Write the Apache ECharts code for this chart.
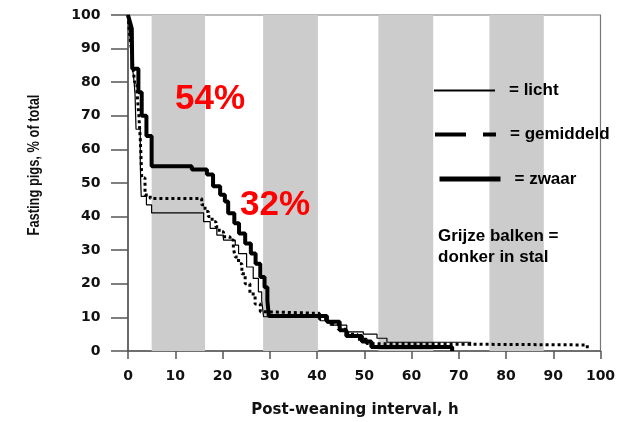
<!DOCTYPE html>
<html>
<head>
<meta charset="utf-8">
<script src="https://cdn.jsdelivr.net/npm/echarts@6/dist/echarts.min.js"></script>
<style>
html,body{margin:0;padding:0;background:#fff;}
#c{width:627px;height:422px;}
</style>
</head>
<body>
<div id="c"></div>
<script>
// ---- data (hours after weaning, % of pigs still fasting) ----
const xTicks = [0,10,20,30,40,50,60,70,80,90,100];
const yTicks = [0,10,20,30,40,50,60,70,80,90,100];
// dark periods in the barn (grey bars), hours
const darkStart = [5, 28.6, 53, 76.5];
const darkEnd   = [16.3, 40.2, 64.6, 88];

const lichtHours = [0,0.3,0.6,0.9,1.3,1.5,1.7,2.6,2.7,2.8,3.9,5.0,16.0,17.4,18.8,20.2,22.7,23.4,25.1,26.5,27.6,28.3,28.7,40.7,42.8,46.3,49.8,52.7,54.8,72.5];
const lichtPct   = [100,96,90,85,80,76,66,56,50,46,43.5,41.1,38.5,36.5,34.5,33,31.5,29,25,21.6,17.6,15,10.2,9,7.7,5.7,5,3.8,2.6,1.5];

const gemHours = [0,0.3,0.7,1.0,1.4,1.9,2.3,2.6,2.8,2.9,3.6,4.7,15.6,16.3,17.0,17.8,18.6,19.3,20.2,21.6,22.3,22.7,23.4,24.1,24.8,25.8,26.9,28.0,28.7,40.5,42.5,44.5,46.5,48.5,50.5,51.5,97.2];
const gemPct   = [100,95,90,85,80,77,70,63,56,51.5,46.4,45.4,43.5,41.5,40,38.5,37,35.5,34,33,30.5,28,26,23,20,17,14,11.7,11.2,9.5,8,6.5,5,3.5,2.2,1.8,0];

const zwaarHours = [0,0.4,0.8,0.9,2.2,2.9,3.9,5.0,13.5,16.7,18.0,19.5,20.5,21.2,22.5,23.5,24.8,26.0,27.0,28.0,28.9,29.5,29.8,42.1,44.8,46.2,49.5,51.5,68.6];
const zwaarPct   = [100,98,96,84,77,70,64,55,54,52.5,49,46.5,44.5,41,38,35,32,29,26,22,19,15,10.4,8.7,6.2,4.5,2.8,1.2,0];

const seriesNames = ['licht','gemiddeld','zwaar'];

function pairs(xs, ys){ return xs.map((x,i)=>[x, ys[i]]); }

const chart = echarts.init(document.getElementById('c'), null, {renderer:'canvas'});

const tickFont = {fontFamily:'DejaVu Sans', fontWeight:'bold', fontSize:14, color:'#111'};
const legFont = {fontFamily:'Liberation Sans', fontWeight:'bold', fontSize:17, color:'#000', padding:[0,0,0,9]};
const hidden = {color:'rgba(0,0,0,0)', borderColor:'rgba(0,0,0,0)', borderWidth:0, opacity:0};

function legendFor(name, left, centerY, ls, itemW){
  return {
    data:[{name:name, lineStyle:ls, itemStyle:hidden}],
    left:left, top:centerY-5, padding:0,
    itemWidth:itemW, itemHeight:10,
    selectedMode:false,
    formatter:'= {name}',
    textStyle:legFont, z:20
  };
}

chart.setOption({
  animation:false,
  backgroundColor:'#fff',
  grid:{left:128, right:26.5, top:15, bottom:71, show:true, borderColor:'#777', borderWidth:1.2, backgroundColor:'transparent'},
  xAxis:{
    type:'value', min:xTicks[0], max:xTicks[xTicks.length-1], interval:10,
    axisLine:{show:true, lineStyle:{color:'#555', width:1.5}},
    axisTick:{show:true, length:8, lineStyle:{color:'#555', width:1.5}},
    axisLabel:Object.assign({margin:18}, tickFont),
    splitLine:{show:false}
  },
  yAxis:{
    type:'value', min:yTicks[0], max:yTicks[yTicks.length-1], interval:10,
    axisLine:{show:true, lineStyle:{color:'#555', width:1.5}},
    axisTick:{show:true, length:17, lineStyle:{color:'#555', width:1.5}},
    axisLabel:Object.assign({margin:27.5}, tickFont),
    splitLine:{show:false}
  },
  legend:[
    legendFor(seriesNames[0], 433, 87, {width:2, type:'solid', color:'#000'}, 61),
    legendFor(seriesNames[1], 433, 131, {width:4, type:[31,17], color:'#000'}, 61),
    legendFor(seriesNames[2], 437, 175.5, {width:5, type:'solid', color:'#000'}, 61)
  ],
  series:[
    {
      name:seriesNames[0], type:'line', step:'end', symbol:'none', clip:false,
      data:pairs(lichtHours, lichtPct),
      lineStyle:{color:'#000', width:1.2}, itemStyle:{color:'#000'}, z:3,
      markArea:{
        silent:true,
        itemStyle:{color:'#cccccc'},
        data: darkStart.map((s,i)=>[{xAxis:s},{xAxis:darkEnd[i]}])
      }
    },
    {
      name:seriesNames[1], type:'line', step:'end', symbol:'none', clip:false,
      data:pairs(gemHours, gemPct),
      lineStyle:{color:'#000', width:3, type:[3,3]}, itemStyle:{color:'#000'}, z:4
    },
    {
      name:seriesNames[2], type:'line', step:'end', symbol:'none', clip:false,
      data:pairs(zwaarHours, zwaarPct),
      lineStyle:{color:'#000', width:4}, itemStyle:{color:'#000'}, z:5
    }
  ],
  graphic:[
    {type:'text', z:100, x:0, y:0, style:{text:'Post-weaning interval, h', x:355, y:410, textAlign:'center', textVerticalAlign:'middle', font:'bold 15px "DejaVu Sans"', fill:'#111'}},
    {type:'text', z:100, rotation:Math.PI/2, scaleX:0.78, scaleY:1, x:34.5, y:165, style:{text:'Fasting pigs, % of total', x:0, y:0, textAlign:'center', textVerticalAlign:'middle', font:'bold 16.5px "Liberation Sans"', fill:'#111'}},
    {type:'text', z:100, x:0, y:0, style:{text:'54%', x:175, y:99, textAlign:'left', textVerticalAlign:'middle', font:'bold 35px "Liberation Sans"', fill:'#ff0000'}},
    {type:'text', z:100, x:0, y:0, style:{text:'32%', x:240, y:205, textAlign:'left', textVerticalAlign:'middle', font:'bold 35px "Liberation Sans"', fill:'#ff0000'}},
    {type:'text', z:100, x:0, y:0, style:{text:'Grijze balken =', x:438, y:236.5, textAlign:'left', textVerticalAlign:'middle', font:'bold 17px "Liberation Sans"', fill:'#000'}},
    {type:'text', z:100, x:0, y:0, style:{text:'donker in stal', x:438, y:257, textAlign:'left', textVerticalAlign:'middle', font:'bold 17px "Liberation Sans"', fill:'#000'}}
  ]
});
</script>
</body>
</html>
